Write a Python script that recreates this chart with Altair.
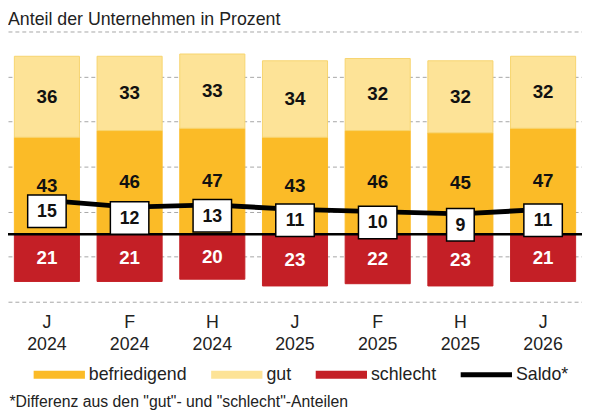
import altair as alt
import pandas as pd

periods = ["J 2024", "F 2024", "H 2024", "J 2025", "F 2025", "H 2025", "J 2026"]
gut = [36, 33, 33, 34, 32, 32, 32]
befriedigend = [43, 46, 47, 43, 46, 45, 47]
schlecht = [21, 21, 20, 23, 22, 23, 21]
saldo = [15, 12, 13, 11, 10, 9, 11]

cats = ["befriedigend", "gut", "schlecht", "Saldo*"]
fills = ["#FBBB27", "#FDE397", "#C41F26", "#000000"]
strokes = ["#FBBB27", "#F7D46F", "#C41F26", "#000000"]

rows = []
for i, p in enumerate(periods):
    s, b, g = schlecht[i], befriedigend[i], gut[i]
    rows.append(dict(period=p, cat="schlecht", y0=-s, y1=0, val=s))
    rows.append(dict(period=p, cat="befriedigend", y0=0, y1=b, val=b))
    rows.append(dict(period=p, cat="gut", y0=b, y1=b + g, val=g))
bars_df = pd.DataFrame(rows)
bars_df["mid"] = (bars_df["y0"] + bars_df["y1"]) / 2

saldo_df = pd.DataFrame({"period": periods, "saldo": saldo})
zero_df = pd.DataFrame({"z": [0]})

footnote = '*Differenz aus den "gut"- und "schlecht"-Anteilen'

x = alt.X(
    "period:N",
    sort=periods,
    scale=alt.Scale(paddingInner=0.213, paddingOuter=0.077),
    axis=alt.Axis(
        title=footnote,
        labelExpr="split(datum.label, ' ')",
        labelAngle=0,
        labelFontSize=18,
        labelColor="#222222",
        labelLineHeight=22,
        labelPadding=12,
        ticks=False,
        domain=False,
        titleFontSize=16,
        titleFontWeight="normal",
        titleColor="#222222",
        titleAnchor="start",
        titleAlign="left",
        titleBaseline="top",
        titleX=1,
        titleY=93,
    ),
)

yscale = alt.Scale(domain=[-30, 90], nice=False, zero=False)
yaxis = alt.Axis(
    values=[-30, -10, 10, 30, 50, 70, 90],
    labels=False,
    ticks=False,
    domain=False,
    grid=True,
    gridDash=[4, 3],
    gridColor="#A6A6A6",
    gridWidth=1,
)

legend = alt.Legend(
    orient="none",
    legendX=26,
    legendY=322,
    direction="horizontal",
    title=None,
    padding=0,
    symbolType=alt.ExprRef(
        expr="datum.value === 'Saldo*' ? 'M-1,-0.1H1V0.1H-1Z' : 'M-1,-0.154H1V0.154H-1Z'"
    ),
    symbolSize=2704,
    symbolStrokeWidth=0,
    labelFontSize=18,
    labelColor="#222222",
    labelOffset=4,
    columnPadding=24,
)

bars = alt.Chart(bars_df).mark_bar(strokeWidth=1).encode(
    x=x,
    y=alt.Y("y0:Q", scale=yscale, axis=yaxis, title=None),
    y2="y1:Q",
    color=alt.Color("cat:N", scale=alt.Scale(domain=cats, range=fills), legend=legend),
    stroke=alt.Stroke("cat:N", scale=alt.Scale(domain=cats, range=strokes), legend=None),
)

zero = alt.Chart(zero_df).mark_rule(color="black", strokeWidth=2.5).encode(
    y=alt.Y("z:Q", title=None)
)

bar_text = alt.Chart(bars_df).mark_text(fontSize=19, fontWeight="bold").encode(
    x=x,
    y=alt.Y("mid:Q", title=None),
    text="val:Q",
    color=alt.condition(alt.datum.cat == "schlecht", alt.value("white"), alt.value("#111111")),
)

line = alt.Chart(saldo_df).mark_line(color="black", strokeWidth=5).encode(
    x=x, y=alt.Y("saldo:Q", title=None)
)

boxes = (
    alt.Chart(saldo_df)
    .transform_calculate(
        shp="datum.saldo >= 10 ? 'M-1,-0.846H1V0.846H-1Z' : 'M-0.718,-0.846H0.718V0.846H-0.718Z'"
    )
    .mark_point(filled=True, fill="white", stroke="black", strokeWidth=1.5, size=1521, opacity=1, yOffset=11)
    .encode(x=x, y=alt.Y("saldo:Q", title=None), shape=alt.Shape("shp:N", scale=None))
)

box_text = alt.Chart(saldo_df).mark_text(fontSize=18, fontWeight="bold", color="#111111", yOffset=12).encode(
    x=x, y=alt.Y("saldo:Q", title=None), text="saldo:Q"
)

chart = (
    alt.layer(bars, zero, bar_text, line, boxes, box_text)
    .properties(
        width=582,
        height=274,
        title=alt.TitleParams(
            "Anteil der Unternehmen in Prozent",
            anchor="start",
            frame="group",
            fontSize=18,
            fontWeight="normal",
            color="#222222",
            offset=3,
        ),
        autosize=alt.AutoSizeParams(type="none"),
        padding={"left": 0, "top": 21, "right": 0, "bottom": 110},
    )
    .configure(font="Liberation Sans")
    .configure_view(stroke=None)
)

chart.save("out.html", embed_options={"renderer": "svg", "actions": False})
